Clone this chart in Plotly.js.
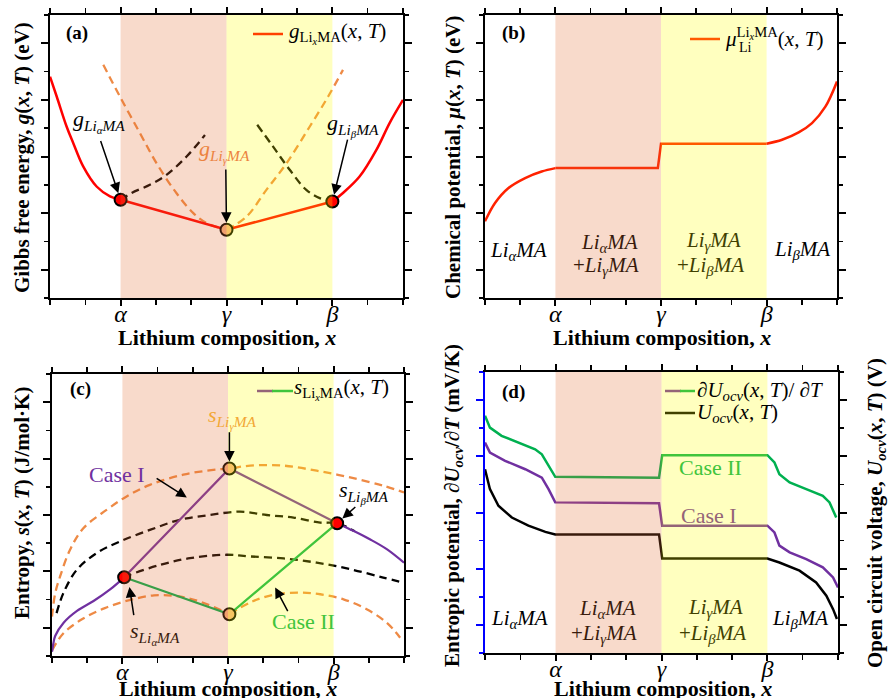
<!DOCTYPE html>
<html>
<head>
<meta charset="utf-8">
<script src="https://cdn.plot.ly/plotly-3.0.1.min.js"></script>
<style>
  html, body { margin: 0; padding: 0; background: #fff; }
  #chart { width: 890px; height: 698px; }
</style>
</head>
<body>
<div id="chart"></div>
<script>
// ---------- data ----------
// phase boundaries on the composition axis (α, γ, β)
const phaseX = [2, 5, 8];
const phaseLabels = ['α', 'γ', 'β'];
const majorY = [1, 3, 5, 7, 9];

// (a) Gibbs free energy
const gLeftX = [0, 0.19, 0.47, 0.66, 0.94, 1.32, 1.7, 2.0];
const gLeftY = [7.82, 7.12, 6.06, 5.47, 4.65, 3.94, 3.59, 3.47];
const gTieX = [2.0, 5.0, 8.0];
const gTieY = [3.47, 2.41, 3.41];
const gRightX = [8.0, 8.3, 8.77, 9.25, 9.62, 10];
const gRightY = [3.41, 3.71, 4.29, 5.24, 6.18, 7.0];
const gAlphaX = [2.0, 2.31, 2.83, 3.3, 3.87, 4.39];
const gAlphaY = [3.47, 3.71, 4.0, 4.35, 5.0, 5.76];
const gBetaX = [5.87, 6.32, 6.79, 7.26, 7.64, 8.0];
const gBetaY = [6.12, 5.35, 4.53, 3.82, 3.53, 3.41];
const gGammaLX = [1.51, 1.98, 2.55, 3.02, 3.58, 4.06, 4.43, 5.0];
const gGammaLY = [8.24, 7.12, 5.82, 4.76, 3.71, 3.0, 2.65, 2.41];
const gGammaRX = [5.0, 5.57, 6.13, 6.7, 7.36, 7.88, 8.3];
const gGammaRY = [2.41, 2.88, 3.82, 4.76, 6.06, 7.12, 8.06];

// (b) chemical potential
const muLeftX = [0, 0.28, 0.66, 1.14, 1.61, 2.0];
const muLeftY = [2.71, 3.35, 3.88, 4.24, 4.47, 4.59];
const muMidX = [2.0, 4.91, 5.0, 8.0];
const muMidY = [4.59, 4.59, 5.45, 5.45];
const muRightX = [8.0, 8.44, 8.91, 9.29, 9.67, 10];
const muRightY = [5.45, 5.59, 5.85, 6.18, 6.76, 7.65];

// (c) entropy
const sLeftX = [0, 0.04, 0.09, 0.33, 0.71, 1.18, 1.66, 2.05];
const sLeftY = [0.15, 0.45, 0.71, 1.18, 1.6, 1.95, 2.37, 2.79];
const sRightX = [8.1, 8.56, 9.03, 9.51, 10];
const sRightY = [4.71, 4.44, 4.14, 3.79, 3.31];
const caseIX = [2.05, 5.04, 8.1];
const caseIY = [2.79, 6.65, 4.71];
const caseIIX = [2.05, 5.04, 8.1];
const caseIIY = [2.79, 1.48, 4.71];
const sGammaHiX = [0, 0.09, 0.23, 0.51, 0.89, 1.55, 2.12, 2.78, 3.73, 4.58, 5.04, 5.63, 6.58, 7.52, 8.47, 9.41, 10];
const sGammaHiY = [1.4, 2.22, 2.82, 3.76, 4.53, 5.18, 5.66, 6.07, 6.43, 6.6, 6.65, 6.75, 6.75, 6.57, 6.33, 6.04, 5.8];
const sGammaLoLX = [0, 0.32, 0.85, 1.5, 2.2, 2.9, 3.55, 4.2, 5.04];
const sGammaLoLY = [0.2, 0.8, 1.3, 1.7, 1.98, 2.15, 2.12, 1.93, 1.48];
const sGammaLoRX = [5.04, 5.72, 6.39, 7.05, 7.62, 8.28, 8.94, 9.51, 9.89];
const sGammaLoRY = [1.48, 1.95, 2.19, 2.25, 2.19, 2.01, 1.66, 1.18, 0.65];
const sBetaX = [0.13, 0.32, 0.7, 1.27, 1.93, 2.78, 3.63, 4.48, 5.34, 6.1, 6.86, 7.62, 8.1, 8.6];
const sBetaY = [1.52, 2.22, 3.05, 3.65, 4.06, 4.47, 4.83, 5.0, 5.12, 5.0, 4.91, 4.73, 4.71, 4.42];
const sAlphaX = [2.05, 2.21, 3.07, 3.92, 4.96, 5.63, 6.58, 7.52, 8.47, 9.41, 10];
const sAlphaY = [2.79, 2.88, 3.23, 3.47, 3.59, 3.53, 3.46, 3.31, 3.08, 2.78, 2.6];

// (d) entropic potential and open circuit voltage
const dCase2X = [0, 0.14, 0.47, 0.95, 1.42, 1.61, 1.8, 1.99, 4.93, 5.02, 8.0, 8.2, 8.34, 8.63, 9.1, 9.57, 9.76, 9.95];
const dCase2Y = [8.44, 8.02, 7.73, 7.49, 7.25, 7.07, 6.66, 6.27, 6.24, 7.04, 7.04, 6.78, 6.36, 6.07, 5.83, 5.59, 5.36, 4.82];
const dCase1X = [0, 0.14, 0.57, 1.14, 1.61, 1.8, 1.99, 4.93, 5.02, 8.0, 8.2, 8.34, 8.63, 9.1, 9.57, 9.86, 10];
const dCase1Y = [7.49, 7.13, 6.84, 6.54, 6.24, 5.83, 5.36, 5.33, 4.53, 4.53, 4.29, 3.82, 3.58, 3.34, 3.05, 2.69, 2.33];
const uocvX = [0, 0.14, 0.38, 0.76, 1.23, 1.71, 1.99, 4.93, 5.02, 8.0, 8.34, 8.91, 9.38, 9.67, 9.86, 9.97];
const uocvY = [6.54, 5.83, 5.24, 4.82, 4.53, 4.31, 4.22, 4.22, 3.36, 3.36, 3.22, 2.93, 2.51, 2.04, 1.56, 1.21];

// ---------- styling ----------
const W = 890, H = 698;
const SERIF = 'Liberation Serif, Times New Roman, serif';
const RED = '#FF0000', RED_B = '#FF2200', ORANGE = '#EE8A45', PURPLE = '#7030A0', GREEN = '#00B050';
const PEACH_FILL = '#F4B183';
const OVER_A = [228, 108, 48], OVER_B = [255, 255, 0], OVER_ALPHA = 0.25;

const px = v => v / W;
const py = v => 1 - v / H;

function hexRgb(h) { h = h.replace('#', ''); return [0, 2, 4].map(i => parseInt(h.substr(i, 2), 16)); }
function tint(hex, over) {
  const c = hexRgb(hex);
  return 'rgb(' + c.map((v, i) => Math.round(v * (1 - OVER_ALPHA) + over[i] * OVER_ALPHA)).join(',') + ')';
}
function rgba(c) { return 'rgba(' + c.join(',') + ',' + OVER_ALPHA + ')'; }

function xAxis(domain, anchor) {
  return {
    domain, anchor, range: [0, 10], fixedrange: true,
    showgrid: false, zeroline: false,
    showline: true, linecolor: '#000', linewidth: 2, mirror: 'ticks',
    ticks: 'outside', ticklen: 6, tickwidth: 2, tickcolor: '#000',
    tickmode: 'array', tickvals: phaseX, ticktext: phaseLabels.map(t => '<i>' + t + '</i>'),
    tickfont: { family: SERIF, size: 24, color: '#000' },
    ticklabelstandoff: -13,
    minor: { tickmode: 'linear', tick0: 0, dtick: 1, ticks: 'outside', ticklen: 5, tickwidth: 1.5, tickcolor: '#000' }
  };
}
function yAxis(domain, anchor, color, mirror) {
  color = color || '#000';
  return {
    domain, anchor, range: [0, 10], fixedrange: true,
    showgrid: false, zeroline: false,
    showline: true, linecolor: color, linewidth: 2, mirror: mirror === undefined ? 'ticks' : mirror,
    ticks: 'outside', ticklen: 7, tickwidth: 2, tickcolor: color,
    tickmode: 'array', tickvals: majorY, showticklabels: false,
    minor: { tickmode: 'linear', tick0: 0, dtick: 1, ticks: 'outside', ticklen: 4, tickwidth: 1.5, tickcolor: color }
  };
}

function line(x, y, xa, ya, color, opts) {
  opts = opts || {};
  return {
    type: 'scatter', mode: 'lines', x, y, xaxis: xa, yaxis: ya, showlegend: false, hoverinfo: 'skip',
    line: { color, width: opts.width || 2.5, dash: opts.dash || 'solid', shape: opts.shape || 'spline', smoothing: 1 }
  };
}
const DASH = '8px,5px';

function markers(x, y, xa, ya, fills) {
  return {
    type: 'scatter', mode: 'markers', x, y, xaxis: xa, yaxis: ya, showlegend: false, hoverinfo: 'skip',
    marker: { size: 12, color: fills, line: { color: '#000', width: 2 } }
  };
}

const traces = [
  // (a)
  line(gGammaLX, gGammaLY, 'x', 'y', ORANGE, { dash: DASH, width: 2.3 }),
  line(gGammaRX, gGammaRY, 'x', 'y', ORANGE, { dash: DASH, width: 2.3 }),
  line(gAlphaX, gAlphaY, 'x', 'y', '#000', { dash: DASH, width: 2.3 }),
  line(gBetaX, gBetaY, 'x', 'y', '#000', { dash: DASH, width: 2.3 }),
  line(gLeftX, gLeftY, 'x', 'y', RED),
  line(gTieX, gTieY, 'x', 'y', RED, { shape: 'linear' }),
  line(gRightX, gRightY, 'x', 'y', RED),
  markers(gTieX, gTieY, 'x', 'y', [RED, PEACH_FILL, RED]),
  // (b)
  line(muLeftX, muLeftY, 'x2', 'y2', RED_B),
  line(muMidX, muMidY, 'x2', 'y2', RED_B, { shape: 'linear' }),
  line(muRightX, muRightY, 'x2', 'y2', RED_B),
  // (c)
  line(sGammaHiX, sGammaHiY, 'x3', 'y3', ORANGE, { dash: DASH, width: 2.3 }),
  line(sGammaLoLX, sGammaLoLY, 'x3', 'y3', ORANGE, { dash: DASH, width: 2.3 }),
  line(sGammaLoRX, sGammaLoRY, 'x3', 'y3', ORANGE, { dash: DASH, width: 2.3 }),
  line(sBetaX, sBetaY, 'x3', 'y3', '#000', { dash: DASH, width: 2.3 }),
  line(sAlphaX, sAlphaY, 'x3', 'y3', '#000', { dash: DASH, width: 2.3 }),
  line(sLeftX, sLeftY, 'x3', 'y3', PURPLE, { width: 2.2 }),
  line(sRightX, sRightY, 'x3', 'y3', PURPLE, { width: 2.2 }),
  line(caseIX, caseIY, 'x3', 'y3', PURPLE, { shape: 'linear', width: 2.2 }),
  line(caseIIX, caseIIY, 'x3', 'y3', GREEN, { shape: 'linear', width: 2.2 }),
  markers([caseIX[0], caseIX[1], caseIIX[1], caseIX[2]], [caseIY[0], caseIY[1], caseIIY[1], caseIY[2]], 'x3', 'y3',
          [RED, PEACH_FILL, PEACH_FILL, RED]),
  // (d)
  line(dCase2X, dCase2Y, 'x4', 'y4', GREEN, { shape: 'linear' }),
  line(dCase1X, dCase1Y, 'x4', 'y4', PURPLE, { shape: 'linear' }),
  line(uocvX, uocvY, 'x4', 'y5', '#000', { shape: 'linear' })
];

// ---------- annotations ----------
const ann = [];
function txt(xref, yref, x, y, text, size, color, extra) {
  ann.push(Object.assign({ xref, yref, x, y, text, showarrow: false,
    font: { family: SERIF, size, color }, xanchor: 'center', yanchor: 'middle' }, extra || {}));
}
function arrow(xref, yref, hx, hy, tx, ty, standoff) {
  ann.push({ xref, yref, axref: xref, ayref: yref, x: hx, y: hy, ax: tx, ay: ty, text: '',
    showarrow: true, arrowhead: 2, arrowsize: 1.4, arrowwidth: 1.5, arrowcolor: '#000', standoff: standoff || 0 });
}
const phase = (g) => '<i>Li</i><sub><i>' + g + '</i></sub><i>MA</i>';
const named = (s, g) => '<i>' + s + '</i><sub><i>Li</i><sub><i>' + g + '</i></sub><i>MA</i></sub>';

// panel tags
txt('paper', 'paper', px(77), py(33), '<b>(a)</b>', 19, '#000');
txt('paper', 'paper', px(513), py(33), '<b>(b)</b>', 19, '#000');
txt('paper', 'paper', px(80), py(389), '<b>(c)</b>', 19, '#000');
txt('paper', 'paper', px(513), py(392), '<b>(d)</b>', 19, '#000');

// axis titles
const xTitle = '<b>Lithium composition, <i>x</i></b>';
txt('paper', 'paper', px(227), py(337), xTitle, 22, '#000');
txt('paper', 'paper', px(662), py(337), xTitle, 22, '#000');
txt('paper', 'paper', px(228), py(688), xTitle, 22, '#000');
txt('paper', 'paper', px(663), py(688), xTitle, 22, '#000');
txt('paper', 'paper', px(22), py(158), '<b>Gibbs free energy, <i>g</i>(<i>x</i>, <i>T</i>) (eV)</b>', 21, '#000', { textangle: -90 });
txt('paper', 'paper', px(453), py(158), '<b>Chemical potential, <i>μ</i>(<i>x</i>, <i>T</i>) (eV)</b>', 21, '#000', { textangle: -90 });
txt('paper', 'paper', px(22), py(503), '<b>Entropy, <i>s</i>(<i>x</i>, <i>T</i>) (J/mol·K)</b>', 21, '#000', { textangle: -90 });
txt('paper', 'paper', px(453), py(506), '<b>Entropic potential, ∂<i>U</i><sub><i>ocv</i></sub>/∂<i>T</i> (mV/K)</b>', 21, '#000', { textangle: -90 });
txt('paper', 'paper', px(876), py(513), '<b>Open circuit voltage, <i>U</i><sub><i>ocv</i></sub>(<i>x</i>, <i>T</i>) (V)</b>', 21, '#000', { textangle: -90 });

// legends
const lg = { xanchor: 'left' };
txt('paper', 'paper', px(287), py(33), '<i>g</i><sub>Li<sub><i>x</i></sub>MA</sub>(<i>x</i>, <i>T</i>)', 21, '#000', lg);
txt('paper', 'paper', px(723), py(37), '<i>μ</i><sup>Li<sub><i>x</i></sub>MA</sup>(<i>x</i>, <i>T</i>)', 21, '#000', lg);
txt('paper', 'paper', px(737), py(48), 'Li', 14, '#000', lg);
txt('paper', 'paper', px(292), py(389), '<i>s</i><sub>Li<sub><i>x</i></sub>MA</sub>(<i>x</i>, <i>T</i>)', 21, '#000', lg);
txt('paper', 'paper', px(695), py(391), '∂<i>U</i><sub><i>ocv</i></sub>(<i>x</i>, <i>T</i>)/ ∂<i>T</i>', 21, '#000', lg);
txt('paper', 'paper', px(695), py(413), '<i>U</i><sub><i>ocv</i></sub>(<i>x</i>, <i>T</i>)', 21, '#000', lg);

// (a) labels and arrows
txt('x', 'y', 1.39, 6.24, named('g', 'α'), 22, '#000');
arrow('x', 'y', gTieX[0], gTieY[0], 1.42, 5.6, 7);
txt('x', 'y', 4.95, 5.18, named('g', 'γ'), 22, tint(ORANGE, OVER_A));
arrow('x', 'y', gTieX[1], gTieY[1], 4.98, 4.59, 7);
txt('x', 'y', 8.58, 6.12, named('g', 'β'), 22, '#000');
arrow('x', 'y', gTieX[2], gTieY[2], 8.44, 5.65, 7);

// (b) phase labels
txt('x2', 'y2', 0.95, 1.65, phase('α'), 21, '#000');
txt('x2', 'y2', 3.55, 1.96, phase('α'), 21, tint('#000000', OVER_A));
txt('x2', 'y2', 3.45, 1.12, '+' + phase('γ'), 21, tint('#000000', OVER_A));
txt('x2', 'y2', 6.49, 2.0, phase('γ'), 21, tint('#000000', OVER_B));
txt('x2', 'y2', 6.4, 1.12, '+' + phase('β'), 21, tint('#000000', OVER_B));
txt('x2', 'y2', 9.0, 1.7, phase('β'), 21, '#000');

// (c) labels and arrows
txt('x3', 'y3', 5.11, 8.46, named('s', 'γ'), 22, tint(ORANGE, OVER_B));
arrow('x3', 'y3', caseIX[1], caseIY[1], 5.04, 7.99, 7);
txt('x3', 'y3', 1.84, 6.45, 'Case I', 22, PURPLE);
arrow('x3', 'y3', 3.83, 5.62, 2.93, 6.33, 0);
txt('x3', 'y3', 8.85, 5.8, named('s', 'β'), 22, '#000');
arrow('x3', 'y3', caseIX[2], caseIY[2], 8.66, 5.33, 7);
txt('x3', 'y3', 2.93, 0.8, named('s', 'α'), 22, tint('#000000', OVER_A));
arrow('x3', 'y3', 2.2, 2.45, 2.33, 1.4, 0);
txt('x3', 'y3', 7.14, 1.24, 'Case II', 22, tint(GREEN, OVER_B));
arrow('x3', 'y3', 6.34, 2.43, 6.72, 1.54, 0);

// (d) labels
txt('x4', 'y4', 6.4, 6.6, 'Case II', 22, tint(GREEN, OVER_B));
txt('x4', 'y4', 6.35, 4.88, 'Case I', 22, tint(PURPLE, OVER_B));
txt('x4', 'y4', 0.99, 1.21, phase('α'), 21, '#000');
txt('x4', 'y4', 3.46, 1.56, phase('α'), 21, tint('#000000', OVER_A));
txt('x4', 'y4', 3.36, 0.68, '+' + phase('γ'), 21, tint('#000000', OVER_A));
txt('x4', 'y4', 6.54, 1.59, phase('γ'), 21, tint('#000000', OVER_B));
txt('x4', 'y4', 6.45, 0.68, '+' + phase('β'), 21, tint('#000000', OVER_B));
txt('x4', 'y4', 8.91, 1.21, phase('β'), 21, '#000');

// ---------- shapes ----------
const shapes = [];
function legLine(x0, x1, y, color) {
  shapes.push({ type: 'line', xref: 'paper', yref: 'paper', x0: px(x0), x1: px(x1), y0: py(y), y1: py(y),
    line: { color, width: 2.5 }, layer: 'above' });
}
legLine(253, 283, 34, RED);
legLine(690, 720, 39, RED_B);
legLine(257, 273, 391, PURPLE);
legLine(272, 293, 391, GREEN);
legLine(665, 681, 391, PURPLE);
legLine(680, 695, 391, GREEN);
legLine(665, 695, 413, '#000');

// two-phase regions, laid over the curves as translucent bands
[['x', 'y'], ['x2', 'y2'], ['x3', 'y3'], ['x4', 'y4']].forEach(([xa, ya]) => {
  shapes.push({ type: 'rect', xref: xa, yref: ya + ' domain', x0: phaseX[0], x1: phaseX[1], y0: 0, y1: 1,
    fillcolor: rgba(OVER_A), line: { width: 0 }, layer: 'above' });
  shapes.push({ type: 'rect', xref: xa, yref: ya + ' domain', x0: phaseX[1], x1: phaseX[2], y0: 0, y1: 1,
    fillcolor: rgba(OVER_B), line: { width: 0 }, layer: 'above' });
});

const dom = {
  a: { x: [px(50), px(403)], y: [py(298), py(15)] },
  b: { x: [px(485), px(837)], y: [py(298), py(15)] },
  c: { x: [px(52), px(404)], y: [py(656), py(374)] },
  d: { x: [px(485), px(838)], y: [py(653), py(372)] }
};

const yRight = yAxis(dom.d.y, 'x4', '#000', false);
yRight.overlaying = 'y4';
yRight.side = 'right';

const layout = {
  width: W, height: H,
  margin: { l: 0, r: 0, t: 0, b: 0 },
  paper_bgcolor: '#fff', plot_bgcolor: 'rgba(0,0,0,0)',
  showlegend: false,
  font: { family: SERIF, color: '#000' },
  xaxis: xAxis(dom.a.x, 'y'), yaxis: yAxis(dom.a.y, 'x'),
  xaxis2: xAxis(dom.b.x, 'y2'), yaxis2: yAxis(dom.b.y, 'x2'),
  xaxis3: xAxis(dom.c.x, 'y3'), yaxis3: yAxis(dom.c.y, 'x3'),
  xaxis4: xAxis(dom.d.x, 'y4'), yaxis4: yAxis(dom.d.y, 'x4', '#0000FF', false),
  yaxis5: yRight,
  annotations: ann,
  shapes: shapes
};

Plotly.newPlot('chart', traces, layout, { staticPlot: true, displayModeBar: false });
</script>
</body>
</html>
